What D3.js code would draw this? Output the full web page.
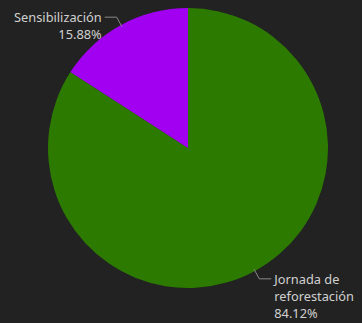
<!DOCTYPE html>
<html>
<head>
<meta charset="utf-8">
<script src="https://cdn.jsdelivr.net/npm/d3@7"></script>
<style>
  html, body { margin: 0; padding: 0; background: #222222; }
  svg { display: block; }
</style>
</head>
<body>
<div id="chart"></div>
<script>
// data
var categories = ["Jornada de reforestación", "Sensibilización"];
var values = [84.12, 15.88];
var labelLines = [["Jornada de", "reforestación", "84.12%"], ["Sensibilización", "15.88%"]];
var colors = ["#2c7a00", "#a200f0"];

var width = 362,
    height = 323,
    radius = 140;

var cx = 188, cy = 148;

var svg = d3.select("#chart")
  .append("svg")
    .attr("width", width)
    .attr("height", height)
  .append("g")
    .attr("transform", "translate(" + cx + "," + cy + ")");

var data = categories.map(function(c, i) {
  return { name: c, value: values[i], lines: labelLines[i], color: colors[i] };
});

var pie = d3.pie()
  .sort(null)
  .value(function(d) { return d.value; });

var data_ready = pie(data);

var arc = d3.arc()
  .innerRadius(0)
  .outerRadius(radius);

// arcs used for the leader lines
var edgeArc = d3.arc().innerRadius(radius - 2).outerRadius(radius - 2);
var outerArc = d3.arc().innerRadius(radius + 9).outerRadius(radius + 9);

svg.selectAll("path.slice")
  .data(data_ready)
  .enter()
  .append("path")
    .attr("class", "slice")
    .attr("d", arc)
    .attr("fill", function(d) { return d.data.color; });

function midAngle(d) { return d.startAngle + (d.endAngle - d.startAngle) / 2; }

// leader lines
svg.selectAll("polyline")
  .data(data_ready)
  .enter()
  .append("polyline")
    .attr("points", function(d) {
      var a = edgeArc.centroid(d);
      var b = outerArc.centroid(d);
      var right = midAngle(d) < Math.PI;
      var c = [b[0] + (right ? 12 : -12), b[1]];
      return [a, b, c];
    })
    .attr("fill", "none")
    .attr("stroke", "#8a8a8a")
    .attr("stroke-width", 1);

// labels
var labels = svg.selectAll("text.label")
  .data(data_ready)
  .enter()
  .append("text")
    .attr("class", "label")
    .style("font-family", "'Noto Sans', 'Open Sans', sans-serif")
    .style("font-size", "12.8px")
    .attr("fill", "#d0d0d0")
    .attr("text-anchor", function(d) { return midAngle(d) < Math.PI ? "start" : "end"; })
    .attr("transform", function(d) {
      var b = outerArc.centroid(d);
      var right = midAngle(d) < Math.PI;
      return "translate(" + (b[0] + (right ? 15 : -15)) + "," + (b[1] + 5) + ")";
    });

labels.selectAll("tspan")
  .data(function(d) {
    return d.data.lines.map(function(l) { return { text: l, right: midAngle(d) < Math.PI }; });
  })
  .enter()
  .append("tspan")
    .attr("x", 0)
    .attr("dy", function(l, i) { return i === 0 ? 0 : 17; })
    .text(function(l) { return l.text; });
</script>
</body>
</html>
